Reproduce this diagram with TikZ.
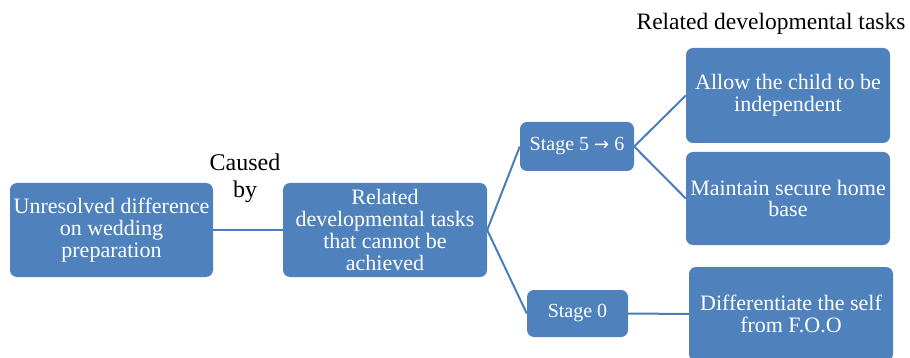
\documentclass[tikz,border=0pt]{standalone}
\usepackage{fontspec}
\setmainfont{Liberation Serif}
\newfontfamily\arrowfont{DejaVu Sans}
\definecolor{boxblue}{HTML}{4F81BD}
\definecolor{linkblue}{HTML}{4A7EBB}

\begin{document}
\begin{tikzpicture}[x=1pt, y=-1pt,
                    box/.style={
			fill=boxblue,
			rounded corners=7pt,
			text=white,
			text centered,
			align=center,
			inner sep=0pt,
			font=\fontsize{22}{21.7}\selectfont,
			anchor=center,
		}, link/.style={
			draw=linkblue,
			line width=2pt,
		}, ]

\useasboundingbox (0,0) rectangle (910,358);
\clip (0,0) rectangle (910,358);

% ------ Cause ------- %
\draw
(111.5,230) node[box, minimum width=203pt, minimum height=94pt](unresolved){Unresolved difference \\ on wedding \\ preparation}
(385,230) node[box, minimum width=204pt, minimum height=94pt](related){Related \\ developmental tasks \\ that cannot be \\ achieved}
;
\draw (245,178) node[align=center, font=\fontsize{24}{27}\selectfont](caused){Caused \\ by};

% -------- Stages --------- %
\draw
(577,146.5) node[box, minimum width=114pt, minimum height=49pt, font=\fontsize{20}{22}\selectfont](stage_56){Stage 5 {\arrowfont\fontsize{18}{22}\selectfont →} 6}
(577.5,313.5) node[box, minimum width=101pt, minimum height=47pt, font=\fontsize{20}{22}\selectfont](stage_0){Stage 0}
;

% -------- Tasks --------- %
\draw (771,24) node[font=\fontsize{23.5}{26}\selectfont](tasks_title){Related developmental tasks};
\draw
(788,95.5) node[box, minimum width=204pt, minimum height=95pt](allow){Allow the child to be \\ independent}
(788,198.5) node[box, minimum width=204pt, minimum height=93pt](maintain){Maintain secure home \\ base}
(791,314) node[box, minimum width=204pt, minimum height=94pt](differ){Differentiate the self \\ from F.O.O}
;

\draw [link] (unresolved.east) -- (related.west);
\draw [link] (related.east) -- (stage_56.west);
\draw [link] (related.east) -- (stage_0.west);
\draw [link] (stage_56.east) -- (allow.west);
\draw [link] (stage_56.east) -- (maintain.west);
\draw [link] (stage_0.east) -- (differ.west);

\end{tikzpicture}
\end{document}
